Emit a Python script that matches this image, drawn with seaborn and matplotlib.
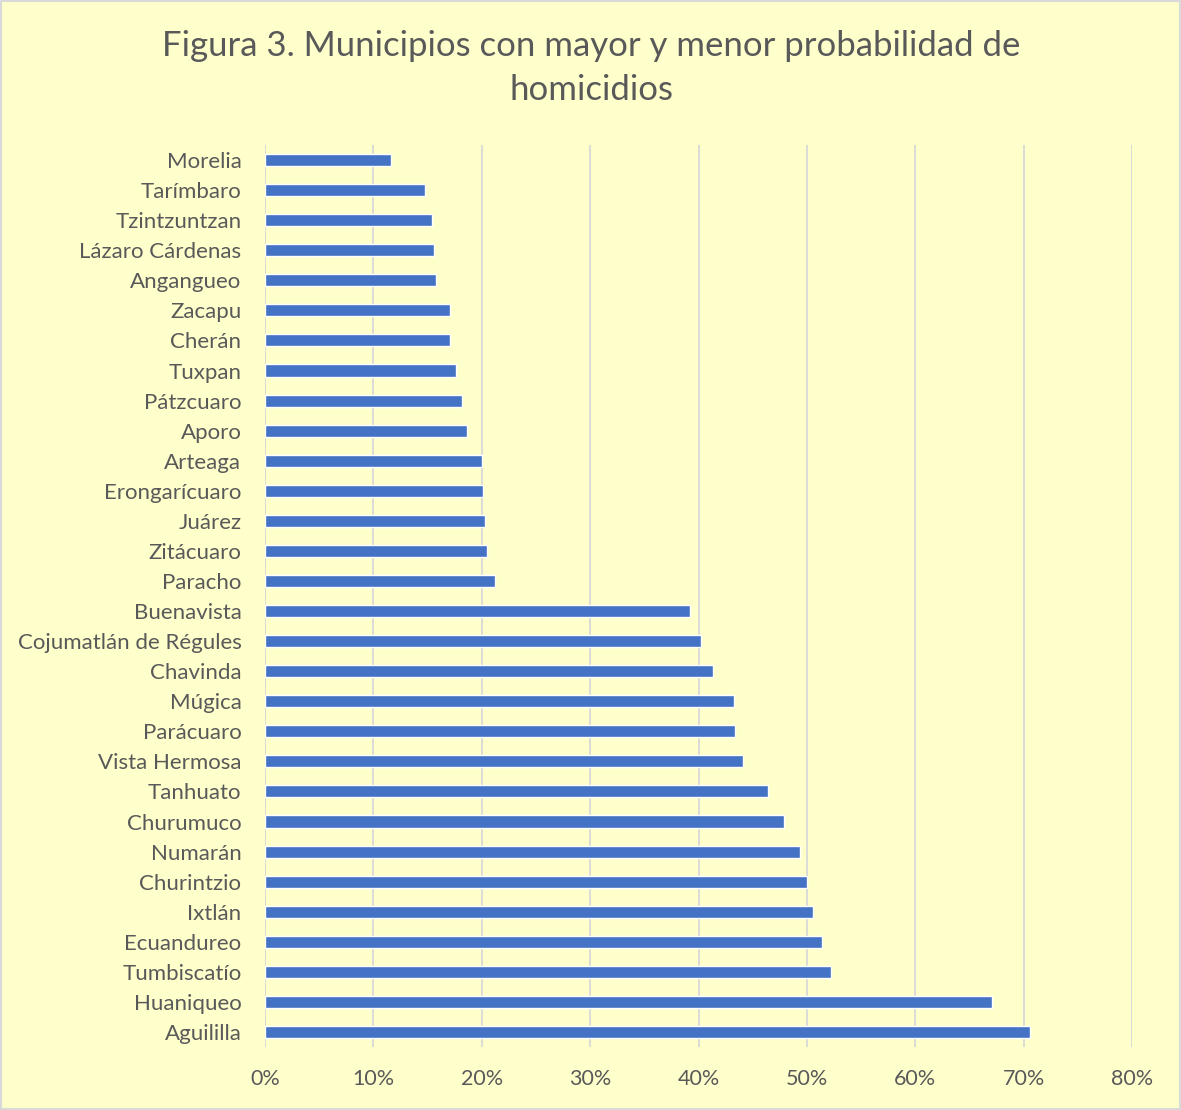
import matplotlib
matplotlib.use("Agg")
import matplotlib.pyplot as plt
from matplotlib.ticker import PercentFormatter
import seaborn as sns
import pandas as pd

municipios = [
    "Morelia", "Tarímbaro", "Tzintzuntzan", "Lázaro Cárdenas", "Angangueo",
    "Zacapu", "Cherán", "Tuxpan", "Pátzcuaro", "Aporo",
    "Arteaga", "Erongarícuaro", "Juárez", "Zitácuaro", "Paracho",
    "Buenavista", "Cojumatlán de Régules", "Chavinda", "Múgica", "Parácuaro",
    "Vista Hermosa", "Tanhuato", "Churumuco", "Numarán", "Churintzio",
    "Ixtlán", "Ecuandureo", "Tumbiscatío", "Huaniqueo", "Aguililla",
]
probabilidad = [
    11.6, 14.8, 15.4, 15.6, 15.8,
    17.1, 17.1, 17.6, 18.2, 18.6,
    20.0, 20.1, 20.3, 20.5, 21.2,
    39.2, 40.2, 41.3, 43.3, 43.4,
    44.1, 46.4, 47.9, 49.4, 50.0,
    50.6, 51.4, 52.2, 67.1, 70.6,
]
x_ticks = [0, 10, 20, 30, 40, 50, 60, 70, 80]
titulo = "Figura 3. Municipios con mayor y menor probabilidad de\nhomicidios"

df = pd.DataFrame({"municipio": municipios, "prob": probabilidad})

sns.set_theme(style="white")
plt.rcParams["font.family"] = ["Lato", "DejaVu Sans"]

bg = "#FFFFCC"
txt = "#595959"
fig = plt.figure(figsize=(11.81, 11.10), dpi=100, facecolor=bg)
ax = fig.add_axes([265 / 1181, 1 - 1047 / 1110, (1132 - 265) / 1181, (1047 - 145) / 1110])
ax.set_facecolor(bg)

sns.barplot(data=df, y="municipio", x="prob", orient="h", color="#4472C4",
            saturation=1, width=0.40, ax=ax, zorder=3)

ax.set_xlim(0, 80)
ax.set_ylim(len(municipios) - 0.5, -0.5)
ax.set_xticks(x_ticks)
ax.xaxis.set_major_formatter(PercentFormatter(decimals=0))
ax.grid(axis="x", color="#D9D9D9", linewidth=1.3, zorder=0)
ax.grid(axis="y", visible=False)
for s in ax.spines.values():
    s.set_visible(False)
ax.set_xlabel("")
ax.set_ylabel("")
ax.tick_params(axis="x", labelsize=15.5, colors=txt, length=0, pad=16)
ax.tick_params(axis="y", labelsize=16, colors=txt, length=0, pad=17)

fig.text(591 / 1181, 1 - 68 / 1110, titulo, ha="center", va="center",
         fontsize=25, color=txt, linespacing=1.45)

border = plt.Rectangle((0.001, 0.001), 0.998, 0.998, transform=fig.transFigure,
                       fill=False, edgecolor="#D9D9D9", linewidth=1.5)
fig.patches.append(border)

fig.savefig("out.png", dpi=100, facecolor=bg)
